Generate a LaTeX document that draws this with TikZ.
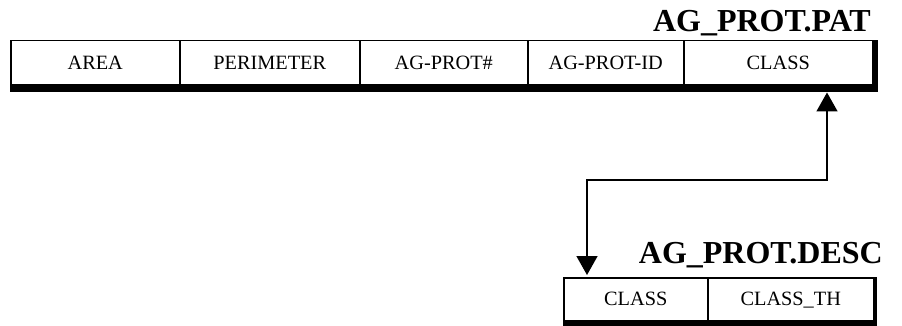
\documentclass[tikz,border=0pt]{standalone}
\usepackage{fontspec}
\setmainfont{Liberation Serif}
\usetikzlibrary{arrows.meta}
\begin{document}
\begin{tikzpicture}[x=1pt,y=-1pt,
  cell/.style={draw, line width=1.5pt, rectangle, inner sep=0pt, anchor=north west,
    text height=13.2pt, text depth=0pt,
    font=\fontsize{20.3}{24}\selectfont},
  ttl/.style={font=\fontsize{32}{36}\selectfont\bfseries, inner sep=0pt, anchor=base east},
  conn/.style={line width=1.6pt, {Triangle[width=21pt,length=19pt]}-{Triangle[width=21pt,length=19pt]}}]
\useasboundingbox (0,0) rectangle (902,326);
% top table
\node[cell, minimum width=169pt, minimum height=44pt] (area) at (10,40) {AREA};
\node[cell, minimum width=180pt, minimum height=44pt] (perim) at (179,40) {PERIMETER};
\node[cell, minimum width=168pt, minimum height=44pt] (agprot) at (359,40) {AG-PROT\#};
\node[cell, minimum width=156pt, minimum height=44pt] (agprotid) at (527,40) {AG-PROT-ID};
\node[cell, minimum width=189pt, minimum height=44pt] (classa) at (683,40) {CLASS};
\fill (10,84) rectangle (878,92.5);
\fill (872,40) rectangle (878,92.5);
\node[ttl] (tpat) at (871,32) {AG\_PROT.PAT};
% bottom table
\node[cell, minimum width=144pt, minimum height=43pt] (classb) at (563,277) {CLASS};
\node[cell, minimum width=166pt, minimum height=43pt] (classth) at (707,277) {CLASS\_TH};
\fill (563,320) rectangle (877,326);
\fill (873,277) rectangle (877,326);
\node[ttl] (tdesc) at (883,263) {AG\_PROT.DESC};
% connector
\coordinate (p1) at (827,92.5);
\coordinate (p2) at (827,180);
\coordinate (p3) at (587,180);
\coordinate (p4) at (587,275);
\draw[conn] (p1) -- (p2) -- (p3) -- (p4);
\end{tikzpicture}
\end{document}
